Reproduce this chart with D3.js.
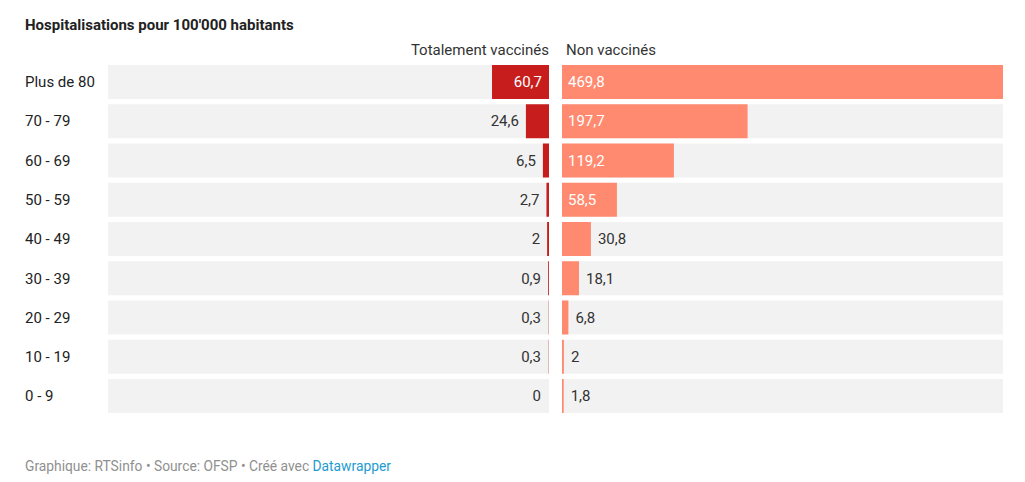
<!DOCTYPE html>
<html><head><meta charset="utf-8">
<script src="https://cdn.jsdelivr.net/npm/d3@7"></script>
<style>
body{margin:0;background:#fff;font-family:Roboto,"Noto Sans",sans-serif;}
</style></head>
<body><svg id="chart" width="1025" height="482"></svg>
<script>
const categories = ["Plus de 80","70 - 79","60 - 69","50 - 59","40 - 49","30 - 39","20 - 29","10 - 19","0 - 9"];
const vaccinated = [60.7, 24.6, 6.5, 2.7, 2, 0.9, 0.3, 0.3, 0];
const unvaccinated = [469.8, 197.7, 119.2, 58.5, 30.8, 18.1, 6.8, 2, 1.8];
const seriesNames = ["Totalement vaccinés", "Non vaccinés"];

const svg = d3.select("#chart");
const fmt = v => String(v).replace(".", ",");
const maxV = d3.max(unvaccinated.concat(vaccinated));

const leftX = d3.scaleLinear().domain([0, maxV]).range([549, 108]);
const rightX = d3.scaleLinear().domain([0, maxV]).range([562, 1003]);
const y = d3.scaleBand().domain(categories).range([65, 413]).paddingInner(0.134).paddingOuter(0);

svg.append("text").attr("x", 25).attr("y", 30).attr("font-size", 15).attr("font-weight", 700)
  .attr("fill", "#222").text("Hospitalisations pour 100'000 habitants");

svg.append("text").attr("x", 549).attr("y", 55).attr("text-anchor", "end").attr("font-size", 15)
  .attr("fill", "#333").text(seriesNames[0]);
svg.append("text").attr("x", 566).attr("y", 55).attr("font-size", 15)
  .attr("fill", "#333").text(seriesNames[1]);

const rows = svg.append("g").selectAll("g").data(categories).join("g");

rows.append("text").attr("x", 25).attr("y", d => y(d) + y.bandwidth() / 2).attr("dy", "0.35em")
  .attr("font-size", 15).attr("fill", "#222").text(d => d);

// backgrounds
rows.append("rect").attr("x", leftX(maxV)).attr("y", d => y(d)).attr("width", leftX(0) - leftX(maxV))
  .attr("height", y.bandwidth()).attr("fill", "#f2f2f2");
rows.append("rect").attr("x", rightX(0)).attr("y", d => y(d)).attr("width", rightX(maxV) - rightX(0))
  .attr("height", y.bandwidth()).attr("fill", "#f2f2f2");

// bars
rows.append("rect").attr("x", (d, i) => leftX(vaccinated[i])).attr("y", d => y(d))
  .attr("width", (d, i) => leftX(0) - leftX(vaccinated[i])).attr("height", y.bandwidth()).attr("fill", "#c71e1d");
rows.append("rect").attr("x", rightX(0)).attr("y", d => y(d))
  .attr("width", (d, i) => rightX(unvaccinated[i]) - rightX(0)).attr("height", y.bandwidth()).attr("fill", "#ff8a6f");

// labels
function textW(s){ return s.length * 8.3; }
rows.append("text").attr("y", d => y(d) + y.bandwidth() / 2).attr("dy", "0.35em").attr("font-size", 15)
  .attr("text-anchor", "end")
  .each(function(d, i){
    const v = vaccinated[i], s = fmt(v);
    const w = leftX(0) - leftX(v);
    const inside = w > textW(s) + 14;
    d3.select(this).attr("x", inside ? leftX(0) - 7 : Math.min(leftX(v) - 7, leftX(0) - 8))
      .attr("fill", inside ? "#fff" : "#333").text(s);
  });
rows.append("text").attr("y", d => y(d) + y.bandwidth() / 2).attr("dy", "0.35em").attr("font-size", 15)
  .each(function(d, i){
    const v = unvaccinated[i], s = fmt(v);
    const w = rightX(v) - rightX(0);
    const inside = w > textW(s) + 14;
    d3.select(this).attr("x", inside ? rightX(0) + 6 : Math.max(rightX(v) + 7, rightX(0) + 8))
      .attr("fill", inside ? "#fff" : "#333").text(s);
  });

const foot = svg.append("text").attr("x", 25).attr("y", 471).attr("font-size", 13.8).attr("fill", "#909090");
foot.append("tspan").text("Graphique: RTSinfo • Source: OFSP • Créé avec ");
foot.append("tspan").attr("fill", "#1d9bd1").text("Datawrapper");
</script></body></html>
